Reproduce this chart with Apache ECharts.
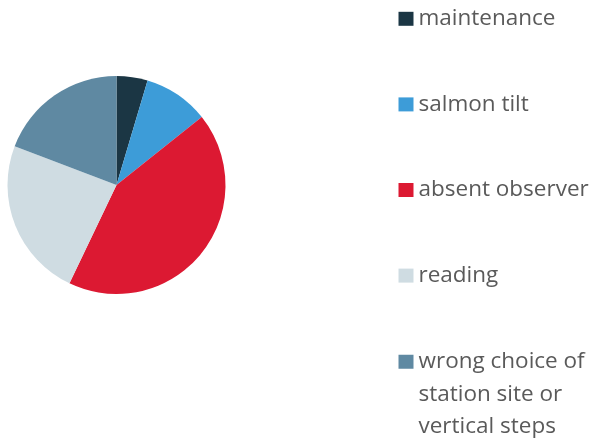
<!DOCTYPE html>
<html><head><meta charset="utf-8">
<script src="https://cdn.jsdelivr.net/npm/echarts@6/dist/echarts.min.js"></script>
<style>html,body{margin:0;padding:0;background:#fff}#c{width:597px;height:440px}</style>
</head><body><div id="c"></div>
<script>
const categories = ['maintenance', 'salmon tilt', 'absent observer', 'reading', 'wrong choice of station site or vertical steps'];
const values = [4.6, 9.7, 42.8, 23.7, 19.2];
const colors = ['#1b3644', '#3d9cd8', '#dc1932', '#cfdce2', '#5f89a2'];

const chart = echarts.init(document.getElementById('c'));
const font = 'Open Sans';
const legendText = {fontFamily: font, fontSize: 22.5, color: '#5a5a5a', lineHeight: 30};
chart.setOption({
  animation: false,
  legend: [{
    orient: 'vertical', left: 398.5, top: 3.8, padding: 0,
    itemWidth: 15, itemHeight: 14, itemGap: 55.6,
    icon: 'rect',
    textStyle: legendText,
    data: categories.slice(0, 4)
  }, {
    orient: 'vertical', left: 398.5, top: 280.5, padding: 0,
    itemWidth: 15, itemHeight: 14,
    icon: 'rect',
    textStyle: Object.assign({}, legendText, {lineHeight: 32.5}),
    formatter: () => '\n\nwrong choice of\nstation site or\nvertical steps',
    data: categories.slice(4)
  }],
  series: [{
    type: 'pie',
    center: [116.5, 185],
    radius: 109,
    startAngle: 90,
    clockwise: true,
    label: {show: false},
    labelLine: {show: false},
    emphasis: {disabled: true},
    data: categories.map((n, i) => ({name: n, value: values[i], itemStyle: {color: colors[i]}}))
  }]
});
</script></body></html>
